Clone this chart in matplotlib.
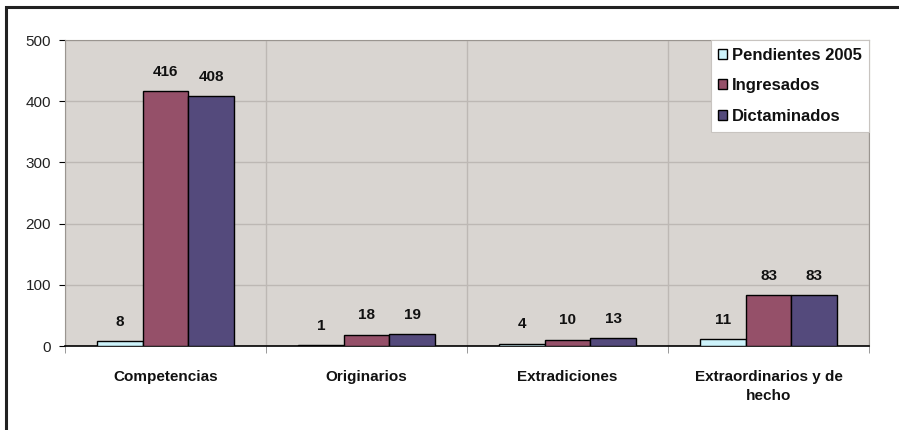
import matplotlib

matplotlib.use("Agg")
import matplotlib.pyplot as plt
import numpy as np
from matplotlib.patches import Rectangle

plt.rcParams["font.family"] = ["Liberation Sans", "DejaVu Sans"]

categories = ["Competencias", "Originarios", "Extradiciones", "Extraordinarios y de\nhecho"]
series_names = ["Pendientes 2005", "Ingresados", "Dictaminados"]
pendientes = [8, 1, 4, 11]
ingresados = [416, 18, 10, 83]
dictaminados = [408, 19, 13, 83]
colors = ["#CDF3FB", "#955069", "#544A7C"]

W, H = 899, 430
fig = plt.figure(figsize=(W / 100, H / 100), dpi=100)
# plot area in pixel coordinates: left 65, right 869, top 40, bottom 346
ax = fig.add_axes([65 / W, 1 - 346 / H, (869 - 65) / W, (346 - 40) / H])
ax.set_facecolor("#D9D5D1")

x = np.arange(len(categories))
bw = 0.227
for i, (vals, col) in enumerate(zip([pendientes, ingresados, dictaminados], colors)):
    pos = x + (i - 1) * bw
    ax.bar(pos, vals, width=bw, color=col, edgecolor="black", linewidth=1.0,
           label=series_names[i], zorder=3)
    for px, v in zip(pos, vals):
        ax.annotate(str(v), (px, v), xytext=(0, 9), textcoords="offset points",
                    ha="center", va="bottom", fontsize=11, fontweight="bold",
                    color="#111111")

ax.set_xlim(-0.5, len(categories) - 0.5)
ax.set_ylim(0, 500)
ax.set_yticks(range(0, 501, 100))
ax.set_xticks(x)
ax.set_xticklabels(categories, fontsize=11, fontweight="bold", color="#111111",
                   linespacing=1.45)
ax.set_xticks(np.arange(-0.5, len(categories), 1), minor=True)
ax.tick_params(axis="x", which="major", length=0, pad=17)
ax.tick_params(axis="x", which="minor", length=5, color="#888888", direction="out")
ax.tick_params(axis="y", length=4, labelsize=11, pad=6, labelcolor="#222222")

ax.grid(True, axis="y", color="#BDB8B4", linewidth=1.0, zorder=0)
ax.grid(True, axis="x", which="minor", color="#BDB8B4", linewidth=1.0, zorder=0)

for side in ["top", "right", "left"]:
    ax.spines[side].set_color("#9A9590")
ax.spines["bottom"].set_color("black")
ax.spines["bottom"].set_linewidth(1.2)

leg = ax.legend(loc="upper right", frameon=True, fancybox=False, fontsize=12,
                handlelength=0.5, handleheight=0.55, handletextpad=0.3,
                borderpad=0.45, labelspacing=0.95, borderaxespad=0.0)
leg.get_frame().set_facecolor("white")
leg.get_frame().set_edgecolor("#C8C4C0")
leg.get_frame().set_linewidth(0.8)
leg.get_frame().set_alpha(1.0)
for t in leg.get_texts():
    t.set_fontweight("bold")
    t.set_color("#111111")

# outer chart border
fig.patches.append(Rectangle((6 / W, -0.05), 1.1, 1 - 7 / H + 0.05,
                             transform=fig.transFigure, fill=False,
                             edgecolor="#222222", linewidth=2.2))

fig.savefig("out.png", dpi=100)
